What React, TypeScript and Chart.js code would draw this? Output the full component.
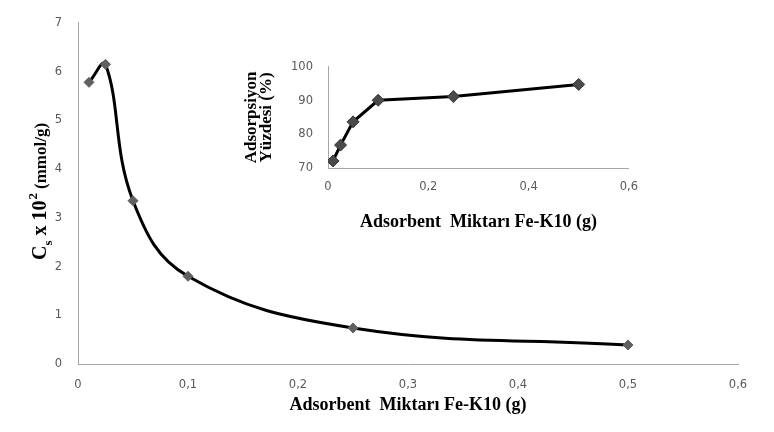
import React, { useEffect, useRef } from "react";
import { Chart, registerables } from "chart.js";

Chart.register(...registerables);

const mainX = [0.01, 0.025, 0.05, 0.1, 0.25, 0.5];
const mainY = [5.78, 6.15, 3.35, 1.8, 0.74, 0.39];
const insetX = [0.01, 0.025, 0.05, 0.1, 0.25, 0.5];
const insetY = [72.1, 76.8, 83.7, 90.1, 91.2, 94.8];
const xTitle = "Adsorbent  Miktarı Fe-K10 (g)";
const insetYTitle = ["Adsorpsiyon", "Yüzdesi (%)"];

const TICK_COLOR = "#595959";
const AXIS_COLOR = "#a6a6a6";
const tickFont = { family: "'DejaVu Sans', 'Liberation Sans', sans-serif", size: 11.5 };
const titleFont = { family: "'Liberation Serif', 'DejaVu Serif', serif", size: 18, weight: "bold" as const };

const fmt = (v: number) => (Math.abs(v) < 1e-9 ? "0" : Number(v).toFixed(1).replace(".", ","));

const yTitlePlugin = {
  id: "yTitleCustom",
  afterDraw(chart: any) {
    const ctx = chart.ctx;
    ctx.save();
    ctx.translate(46, 260);
    ctx.rotate(-Math.PI / 2);
    ctx.fillStyle = "#000";
    ctx.textBaseline = "alphabetic";
    let x = 0;
    const big = "bold 20px 'Liberation Serif', serif";
    const small = "bold 13px 'Liberation Serif', serif";
    const mid = "bold 17px 'Liberation Serif', serif";
    ctx.font = big;
    ctx.fillText("C", x, 0);
    x += ctx.measureText("C").width;
    ctx.font = small;
    ctx.fillText("s", x, 6);
    x += ctx.measureText("s").width;
    ctx.font = big;
    const t = " x 10";
    ctx.fillText(t, x, 0);
    x += ctx.measureText(t).width;
    ctx.font = small;
    ctx.fillText("2", x + 1, -9);
    x += ctx.measureText("2").width + 5;
    ctx.font = mid;
    ctx.fillText("(mmol/g)", x, 0);
    ctx.restore();
  },
};

export default function App() {
  const mainRef = useRef<HTMLCanvasElement>(null);
  const insetRef = useRef<HTMLCanvasElement>(null);

  useEffect(() => {
    document.body.style.margin = "0";
    const main = new Chart(mainRef.current!, {
      type: "line",
      data: {
        datasets: [
          {
            data: mainX.map((x, i) => ({ x, y: mainY[i] })),
            borderColor: "#000",
            borderWidth: 3,
            tension: 0.4,
            pointStyle: "rectRot",
            pointRadius: 5,
            pointBackgroundColor: "#606060",
            pointBorderColor: "#606060",
            pointBorderWidth: 1,
          },
        ],
      },
      options: {
        responsive: false,
        animation: false,
        layout: { padding: { top: 20, right: 36, left: 0, bottom: 0 } },
        plugins: { legend: { display: false }, tooltip: { enabled: false } },
        scales: {
          x: {
            type: "linear",
            min: 0,
            max: 0.6,
            afterFit: (s: any) => { s.height = 68; },
            grid: { display: false, drawTicks: false },
            border: { display: true, color: AXIS_COLOR, width: 1 },
            ticks: { stepSize: 0.1, color: TICK_COLOR, font: tickFont, padding: 14, callback: (v: any) => fmt(v) },
            title: { display: true, text: xTitle, color: "#000", font: titleFont, padding: { top: 0, bottom: 16 } },
          },
          y: {
            type: "linear",
            min: 0,
            max: 7,
            afterFit: (s: any) => { s.width = 78; },
            grid: { display: false, drawTicks: false },
            border: { display: true, color: AXIS_COLOR, width: 1 },
            ticks: { stepSize: 1, color: TICK_COLOR, font: tickFont, padding: 16 },
          },
        },
      },
      plugins: [yTitlePlugin],
    });

    const inset = new Chart(insetRef.current!, {
      type: "line",
      data: {
        datasets: [
          {
            data: insetX.map((x, i) => ({ x, y: insetY[i] })),
            borderColor: "#000",
            borderWidth: 3,
            tension: 0,
            pointStyle: "rectRot",
            pointRadius: 6,
            pointBackgroundColor: "#4a4a4a",
            pointBorderColor: "#333",
            pointBorderWidth: 1,
          },
        ],
      },
      options: {
        responsive: false,
        animation: false,
        layout: { padding: { top: 14, right: 4, left: 0, bottom: 0 } },
        plugins: { legend: { display: false }, tooltip: { enabled: false } },
        scales: {
          x: {
            type: "linear",
            min: 0,
            max: 0.6,
            afterFit: (s: any) => { s.height = 72; },
            grid: { display: false, drawTicks: false },
            border: { display: true, color: AXIS_COLOR, width: 1 },
            ticks: { stepSize: 0.2, color: TICK_COLOR, font: tickFont, padding: 12, callback: (v: any) => fmt(v) },
            title: { display: true, text: xTitle, color: "#000", font: titleFont, padding: { top: 0, bottom: 7 } },
          },
          y: {
            type: "linear",
            min: 70,
            max: 100,
            afterFit: (s: any) => { s.width = 88; },
            grid: { display: false, drawTicks: false },
            border: { display: true, color: AXIS_COLOR, width: 1 },
            ticks: { stepSize: 10, color: TICK_COLOR, font: tickFont, padding: 15 },
            title: { display: true, text: insetYTitle, color: "#000", font: { ...titleFont, size: 17, lineHeight: 0.9 }, padding: { top: 3.5, bottom: 0 } },
          },
        },
      },
    });

    return () => {
      main.destroy();
      inset.destroy();
    };
  }, []);

  return (
    <div style={{ position: "relative", width: 774, height: 432, background: "#fff" }}>
      <canvas ref={mainRef} width={774} height={432} style={{ position: "absolute", left: 0, top: 0 }} />
      <canvas ref={insetRef} width={410} height={195} style={{ position: "absolute", left: 240, top: 45 }} />
    </div>
  );
}
